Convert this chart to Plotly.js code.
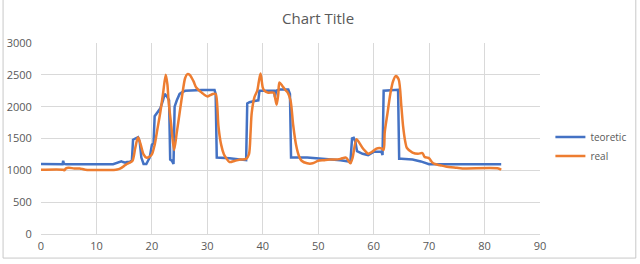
<!DOCTYPE html>
<html>
<head>
<meta charset="utf-8">
<script src="https://cdn.plot.ly/plotly-3.0.1.min.js"></script>
<style>html,body{margin:0;padding:0;background:#fff;}#chart{width:640px;height:264px;}</style>
</head>
<body>
<div id="chart"></div>
<script>
var teoX = [0,3.9,4.0,4.1,4.3,4.6,13,13.8,14.5,14.8,15.2,15.5,16,16.4,16.6,17,17.5,17.8,18.1,18.5,19,19.3,19.6,20,20.3,20.5,21,21.5,22,22.3,22.8,23.1,23.3,23.6,23.9,24.1,24.5,25,25.5,26,29,31,31.3,31.5,31.7,34,36,37,37.2,37.6,38.5,39.2,39.4,42,42.2,42.4,43,44.6,44.9,45.1,48,50,52,54,55.5,55.8,56.1,56.4,56.7,57,58,59,60,61.4,61.6,61.8,64.4,64.6,65,67,68.5,69.5,70,83];
var teoY = [1100,1095,1150,1110,1100,1095,1095,1120,1140,1130,1120,1130,1130,1160,1480,1500,1520,1450,1200,1100,1100,1150,1200,1400,1430,1850,1920,1970,2100,2200,2150,2100,1170,1150,1100,2000,2100,2200,2230,2250,2260,2270,2260,2200,1200,1190,1170,1160,2050,2070,2090,2100,2250,2250,2150,2250,2270,2270,2200,1200,1200,1190,1180,1160,1140,1130,1500,1510,1450,1300,1260,1240,1290,1290,1240,2250,2265,1180,1180,1170,1140,1110,1095,1095];
var realX = [0,4,4.2,4.5,5,6,7,7.5,8,13.5,14,14.5,15,15.5,16,16.5,17,17.5,18,18.5,19,19.5,20,20.5,21,21.5,22,22.5,22.8,23,23.5,24,24.5,25,25.5,26,26.4,26.8,27.5,28,29,30,30.5,31,31.5,31.8,32,32.5,33,33.5,34,35,36,37,37.5,37.8,38,38.5,39,39.3,39.6,40,40.3,41,42,42.2,42.5,42.8,43,43.5,44,44.5,45,45.5,46,46.5,47,48,49,50,51,52,53,54,55,55.3,55.8,56.2,56.9,57.5,58,58.5,59,59.5,60,60.5,61,61.5,61.8,62,62.5,63,63.5,64,64.5,65,65.3,65.7,66,67,68,68.8,69.2,69.7,70,70.5,71,72,73,75,76,82.5,83];
var realY = [1010,1010,1000,1030,1040,1030,1030,1020,1010,1010,1020,1040,1070,1100,1120,1150,1350,1520,1400,1250,1200,1210,1250,1400,1650,1900,2200,2500,2350,2100,1700,1320,1600,1900,2200,2450,2510,2500,2400,2300,2220,2160,2180,2200,2200,2000,1700,1400,1250,1180,1130,1150,1170,1180,1250,1600,1900,2150,2250,2400,2520,2300,2250,2220,2220,2150,2030,2200,2380,2330,2270,2220,2100,1700,1400,1230,1150,1110,1110,1150,1160,1170,1170,1180,1200,1170,1110,1200,1490,1420,1350,1300,1260,1280,1310,1340,1350,1340,1320,1600,1900,2200,2400,2480,2430,2000,1700,1450,1350,1280,1260,1270,1210,1200,1190,1130,1100,1080,1060,1040,1030,1030,1010];
var seriesNames = ['teoretic','real'];

var gray = '#595959';
var traces = [
  {x: teoX, y: teoY, name: seriesNames[0], type: 'scatter', mode: 'lines',
   line: {color: '#4472C4', width: 2.5, shape: 'linear'}},
  {x: realX, y: realY, name: seriesNames[1], type: 'scatter', mode: 'lines',
   line: {color: '#ED7D31', width: 2.5, shape: 'spline', smoothing: 0.8}}
];
var layout = {
  width: 640, height: 264,
  margin: {l: 41, r: 100, t: 43, b: 30, autoexpand: false},
  paper_bgcolor: '#fff', plot_bgcolor: '#fff',
  font: {family: 'Open Sans, sans-serif', size: 11, color: gray},
  title: {text: 'Chart Title', font: {size: 15, color: gray}, x: 0.497, xanchor: 'center', y: 0.93, yanchor: 'middle'},
  xaxis: {range: [0, 90], dtick: 10, tick0: 0, showgrid: true, gridcolor: '#d9d9d9', gridwidth: 1,
          zeroline: false, showline: true, linecolor: '#d9d9d9', ticks: 'outside', ticklen: 2, tickcolor: 'rgba(0,0,0,0)',
          fixedrange: true, automargin: false, tickfont: {size: 11, color: gray}},
  yaxis: {range: [0, 3000], dtick: 500, tick0: 0, showgrid: true, gridcolor: '#d9d9d9', gridwidth: 1,
          zeroline: false, showline: false, ticks: 'outside', ticklen: 6, tickcolor: 'rgba(0,0,0,0)',
          fixedrange: true, automargin: false, tickfont: {size: 11, color: gray}},
  showlegend: true,
  legend: {xref: 'container', yref: 'container', x: 0.86, xanchor: 'left', y: 0.445, yanchor: 'middle',
           font: {size: 10, color: gray}, bgcolor: 'rgba(0,0,0,0)', itemwidth: 30, tracegroupgap: 0},
  shapes: [
    {type: 'rect', xref: 'paper', yref: 'paper', x0: -0.076, x1: 1.192, y0: -0.126, y1: 1.25,
     line: {color: '#c8c8c8', width: 1}, fillcolor: 'rgba(0,0,0,0)', layer: 'below'}
  ]
};
Plotly.newPlot('chart', traces, layout, {displayModeBar: false, staticPlot: true});
</script>
</body>
</html>
